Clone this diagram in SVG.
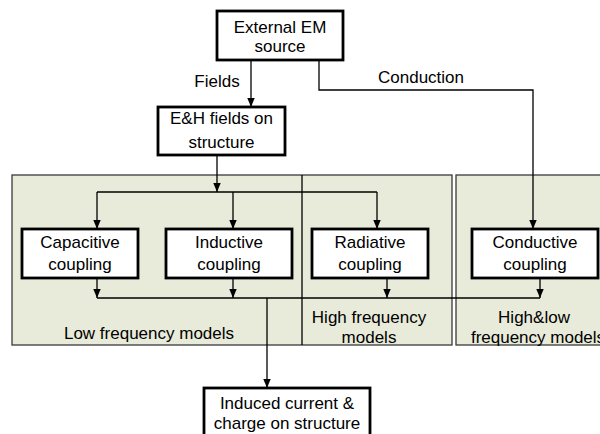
<svg xmlns="http://www.w3.org/2000/svg" width="600" height="434" viewBox="0 0 600 434">
  <style>
    .panel { fill: #E8EBD9; stroke: #3a3a3a; stroke-width: 1.3; }
    .box { fill: #ffffff; stroke: #000000; stroke-width: 2.8; }
    .lbl { font-family: "Liberation Sans", Arial, sans-serif; font-size: 17px; fill: #000000; text-anchor: middle; }
    .wire { fill: none; stroke: #000000; stroke-width: 1.3; }
    .tip { fill: none; stroke: #000000; stroke-width: 1.3; marker-end: url(#arrow); }
  </style>
  <defs>
    <marker id="arrow" markerUnits="userSpaceOnUse" markerWidth="9" markerHeight="9" viewBox="0 0 9 9" refX="9" refY="4.5" orient="auto">
      <path d="M0,0.8 L9,4.5 L0,8.2 Z" fill="#000000"/>
    </marker>
  </defs>

  <!-- model panels -->
  <g id="panels">
    <rect class="panel" x="12" y="175" width="440" height="170"/>
    <line x1="302" y1="175" x2="302" y2="345" stroke="#000" stroke-width="1.3"/>
    <rect class="panel" x="456" y="175" width="150" height="170"/>
    <text class="lbl" x="149" y="339">Low frequency models</text>
    <text class="lbl" x="369" y="323">High frequency</text>
    <text class="lbl" x="369" y="343">models</text>
    <text class="lbl" x="534" y="323">High&amp;low</text>
    <text class="lbl" x="538" y="343">frequency models</text>
  </g>

  <!-- connectors -->
  <g id="connectors">
    <line class="tip" x1="251" y1="61" x2="251" y2="107"/>
    <path class="tip" d="M319,61 V90 H533 V229"/>
    <line class="tip" x1="217" y1="155" x2="217" y2="192"/>
    <path class="wire" d="M97,192 H377"/>
    <line class="tip" x1="97" y1="192" x2="97" y2="229"/>
    <line class="tip" x1="233" y1="192" x2="233" y2="229"/>
    <line class="tip" x1="377" y1="192" x2="377" y2="229"/>
    <line class="tip" x1="97" y1="278" x2="97" y2="298"/>
    <line class="tip" x1="233" y1="278" x2="233" y2="298"/>
    <line class="tip" x1="387" y1="278" x2="387" y2="298"/>
    <line class="tip" x1="540" y1="278" x2="540" y2="298"/>
    <path class="wire" d="M97,298 H540"/>
    <line class="tip" x1="267" y1="298" x2="267" y2="388"/>
    <text class="lbl" x="217" y="87">Fields</text>
    <text class="lbl" x="421" y="83">Conduction</text>
  </g>

  <g id="source">
    <rect class="box" x="217" y="11" width="126" height="49"/>
    <text class="lbl" x="280" y="33">External EM</text>
    <text class="lbl" x="280" y="52">source</text>
  </g>

  <g id="fields">
    <rect class="box" x="158" y="107" width="127" height="48"/>
    <text class="lbl" x="221.5" y="124">E&amp;H fields on</text>
    <text class="lbl" x="221.5" y="148">structure</text>
  </g>

  <g id="capacitive">
    <rect class="box" x="22" y="229" width="116" height="49"/>
    <text class="lbl" x="80" y="248">Capacitive</text>
    <text class="lbl" x="80" y="270">coupling</text>
  </g>

  <g id="inductive">
    <rect class="box" x="166" y="229" width="126" height="49"/>
    <text class="lbl" x="229" y="248">Inductive</text>
    <text class="lbl" x="229" y="270">coupling</text>
  </g>

  <g id="radiative">
    <rect class="box" x="312" y="229" width="116" height="49"/>
    <text class="lbl" x="370" y="248">Radiative</text>
    <text class="lbl" x="370" y="270">coupling</text>
  </g>

  <g id="conductive">
    <rect class="box" x="472" y="229" width="126" height="49"/>
    <text class="lbl" x="535" y="248">Conductive</text>
    <text class="lbl" x="535" y="270">coupling</text>
  </g>

  <g id="induced">
    <rect class="box" x="204" y="388" width="166" height="56"/>
    <text class="lbl" x="287" y="409">Induced current &amp;</text>
    <text class="lbl" x="287" y="429">charge on structure</text>
  </g>
</svg>
